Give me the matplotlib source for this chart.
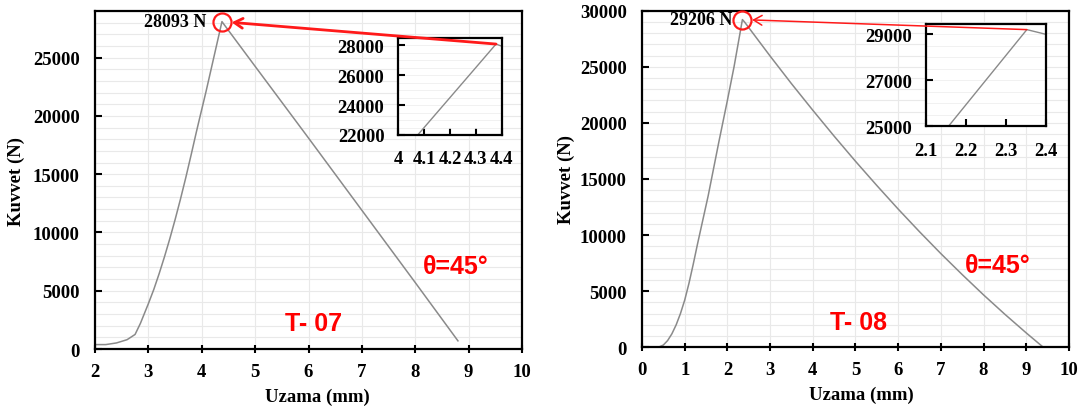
import matplotlib.pyplot as plt
import numpy as np

# T-07 curve (elongation mm, force N)
x07 = [2.0, 2.2, 2.4, 2.6, 2.75, 2.85, 3.0, 3.1, 3.2, 3.3, 3.4, 3.5, 3.6, 3.7, 3.8, 3.9, 3.97,
       4.075, 4.2, 4.3, 4.378, 4.4, 5.0, 6.0, 7.0, 8.0, 8.8]
y07 = [380, 380, 520, 800, 1250, 2200, 3900, 5100, 6450, 7900, 9450, 11100, 12850, 14700, 16650,
       18650, 20000, 22000, 24510, 26520, 28093, 27950, 24250, 18100, 11900, 5700, 700]

# T-08 curve
x08 = [0.38, 0.5, 0.6, 0.7, 0.8, 0.9, 1.0, 1.1, 1.2, 1.3, 1.55, 1.8, 2.0, 2.156, 2.352, 2.4,
       3.0, 3.5, 4.0, 4.5, 5.0, 5.5, 6.0, 6.5, 7.0, 7.5, 8.0, 8.5, 9.0, 9.4]
y08 = [0, 200, 600, 1200, 2000, 3000, 4200, 5700, 7400, 9200, 13500, 18300, 22000, 25000, 29206,
       29000, 25960, 23500, 21130, 18820, 16580, 14420, 12320, 10300, 8350, 6480, 4670, 2940,
       1280, 0]

peak07 = (4.378, 28093)
peak08 = (2.352, 29206)

serif = 'Liberation Serif'
sans = 'Liberation Sans'
plt.rcParams['font.family'] = serif
plt.rcParams['font.weight'] = 'bold'

fig = plt.figure(figsize=(10.85, 4.10), dpi=100)


def style_axes(a, size=13.5, xpad=7, ypad=11):
    for s in a.spines.values():
        s.set_linewidth(1.6)
        s.set_color('black')
    a.tick_params(axis='y', direction='in', length=5, width=1.5, pad=ypad, labelsize=size)
    a.tick_params(axis='x', direction='inout', length=6, width=1.5, pad=xpad, labelsize=size)
    for lab in a.get_xticklabels() + a.get_yticklabels():
        lab.set_fontweight('bold')


def make_panel(rect, x, y, xlim, ylim, yticks, peak, label, tname, theta_xy, t_xy,
               inset_rect, ixlim, iylim, ixticks, ixlabels, iyticks, arrow_lw, lab_off,
               ylab_x, xlab_x):
    ax = fig.add_axes(rect)
    ax.set_xlim(*xlim)
    ax.set_ylim(*ylim)
    ax.set_xticks(np.arange(xlim[0], xlim[1] + 1, 1))
    ax.set_yticks(yticks)
    ax.set_yticks(np.arange(0, ylim[1] + 1, 1000), minor=True)
    ax.tick_params(which='minor', length=0)
    ax.grid(True, which='minor', axis='y', color='#e9e9e9', lw=0.8)
    ax.grid(True, which='major', axis='both', color='#e9e9e9', lw=0.8)
    ax.set_axisbelow(True)
    ax.plot(x, y, color='#8a8a8a', lw=1.1)
    style_axes(ax)
    ax.set_ylabel('Kuvvet (N)', fontsize=13.5, fontweight='bold')
    ax.set_xlabel('Uzama (mm)', fontsize=13.5, fontweight='bold')
    ax.yaxis.set_label_coords(ylab_x, 0.5)
    ax.xaxis.set_label_coords(xlab_x, -0.115)

    # circle at the peak and value label
    ax.plot([peak[0]], [peak[1]], 'o', ms=13, mfc='none', mec='#ff1a1a', mew=1.6,
            clip_on=False, zorder=5)
    ax.annotate(label, xy=peak, xytext=(lab_off, 0), textcoords='offset points',
                ha='right', va='center', fontsize=13, fontweight='bold', family=serif)

    ax.text(theta_xy[0], theta_xy[1], 'θ=45°', color='#ff0000', fontsize=18,
            fontweight='bold', family=sans, ha='center', va='center')
    ax.text(t_xy[0], t_xy[1], tname, color='#ff0000', fontsize=18,
            fontweight='bold', family=sans, ha='center', va='center')

    # inset zoom on the peak
    ins = fig.add_axes(inset_rect)
    ins.set_xlim(*ixlim)
    ins.set_ylim(*iylim)
    ins.set_xticks(ixticks)
    ins.set_xticklabels(ixlabels)
    ins.set_yticks(iyticks)
    ins.set_yticks(np.arange(iylim[0], iylim[1], 500), minor=True)
    ins.tick_params(which='minor', length=0)
    ins.grid(True, which='both', axis='y', color='#efefef', lw=0.6)
    ins.plot(x, y, color='#8a8a8a', lw=1.0)
    style_axes(ins, size=13.5, xpad=11, ypad=10)
    ins.tick_params(axis='x', direction='in', length=5)

    # red arrow from inset peak to circle
    ins.annotate('', xy=peak, xycoords=ax.transData, xytext=peak, textcoords=ins.transData,
                 arrowprops=dict(arrowstyle='->,head_length=0.6,head_width=0.35',
                                 color='#ff1a1a', lw=arrow_lw, shrinkA=0, shrinkB=7),
                 annotation_clip=False, zorder=10)
    return ax, ins


make_panel([0.0876, 0.1463, 0.3935, 0.8244], x07, y07, (2, 10), (0, 29000),
           np.arange(0, 25001, 5000), peak07, '28093 N', 'T- 07', (8.76, 7100), (6.1, 2230),
           [0.3671, 0.6683, 0.0953, 0.2366], (4, 4.4), (22000, 28500),
           [4, 4.1, 4.2, 4.3, 4.4], ['4', '4.1', '4.2', '4.3', '4.4'],
           [22000, 24000, 26000, 28000], 2.0, -11, -0.164, 0.52)

make_panel([0.5917, 0.1505, 0.3935, 0.821], x08, y08, (0, 10), (0, 30000),
           np.arange(0, 30001, 5000), peak08, '29206 N', 'T- 08', (8.33, 7340), (5.06, 2256),
           [0.8535, 0.6895, 0.1106, 0.2495], (2.1, 2.4), (25000, 29450),
           [2.1, 2.2, 2.3, 2.4], ['2.1', '2.2', '2.3', '2.4'],
           [25000, 27000, 29000], 1.1, -7, -0.157, 0.515)

fig.savefig('out.png', dpi=100)
